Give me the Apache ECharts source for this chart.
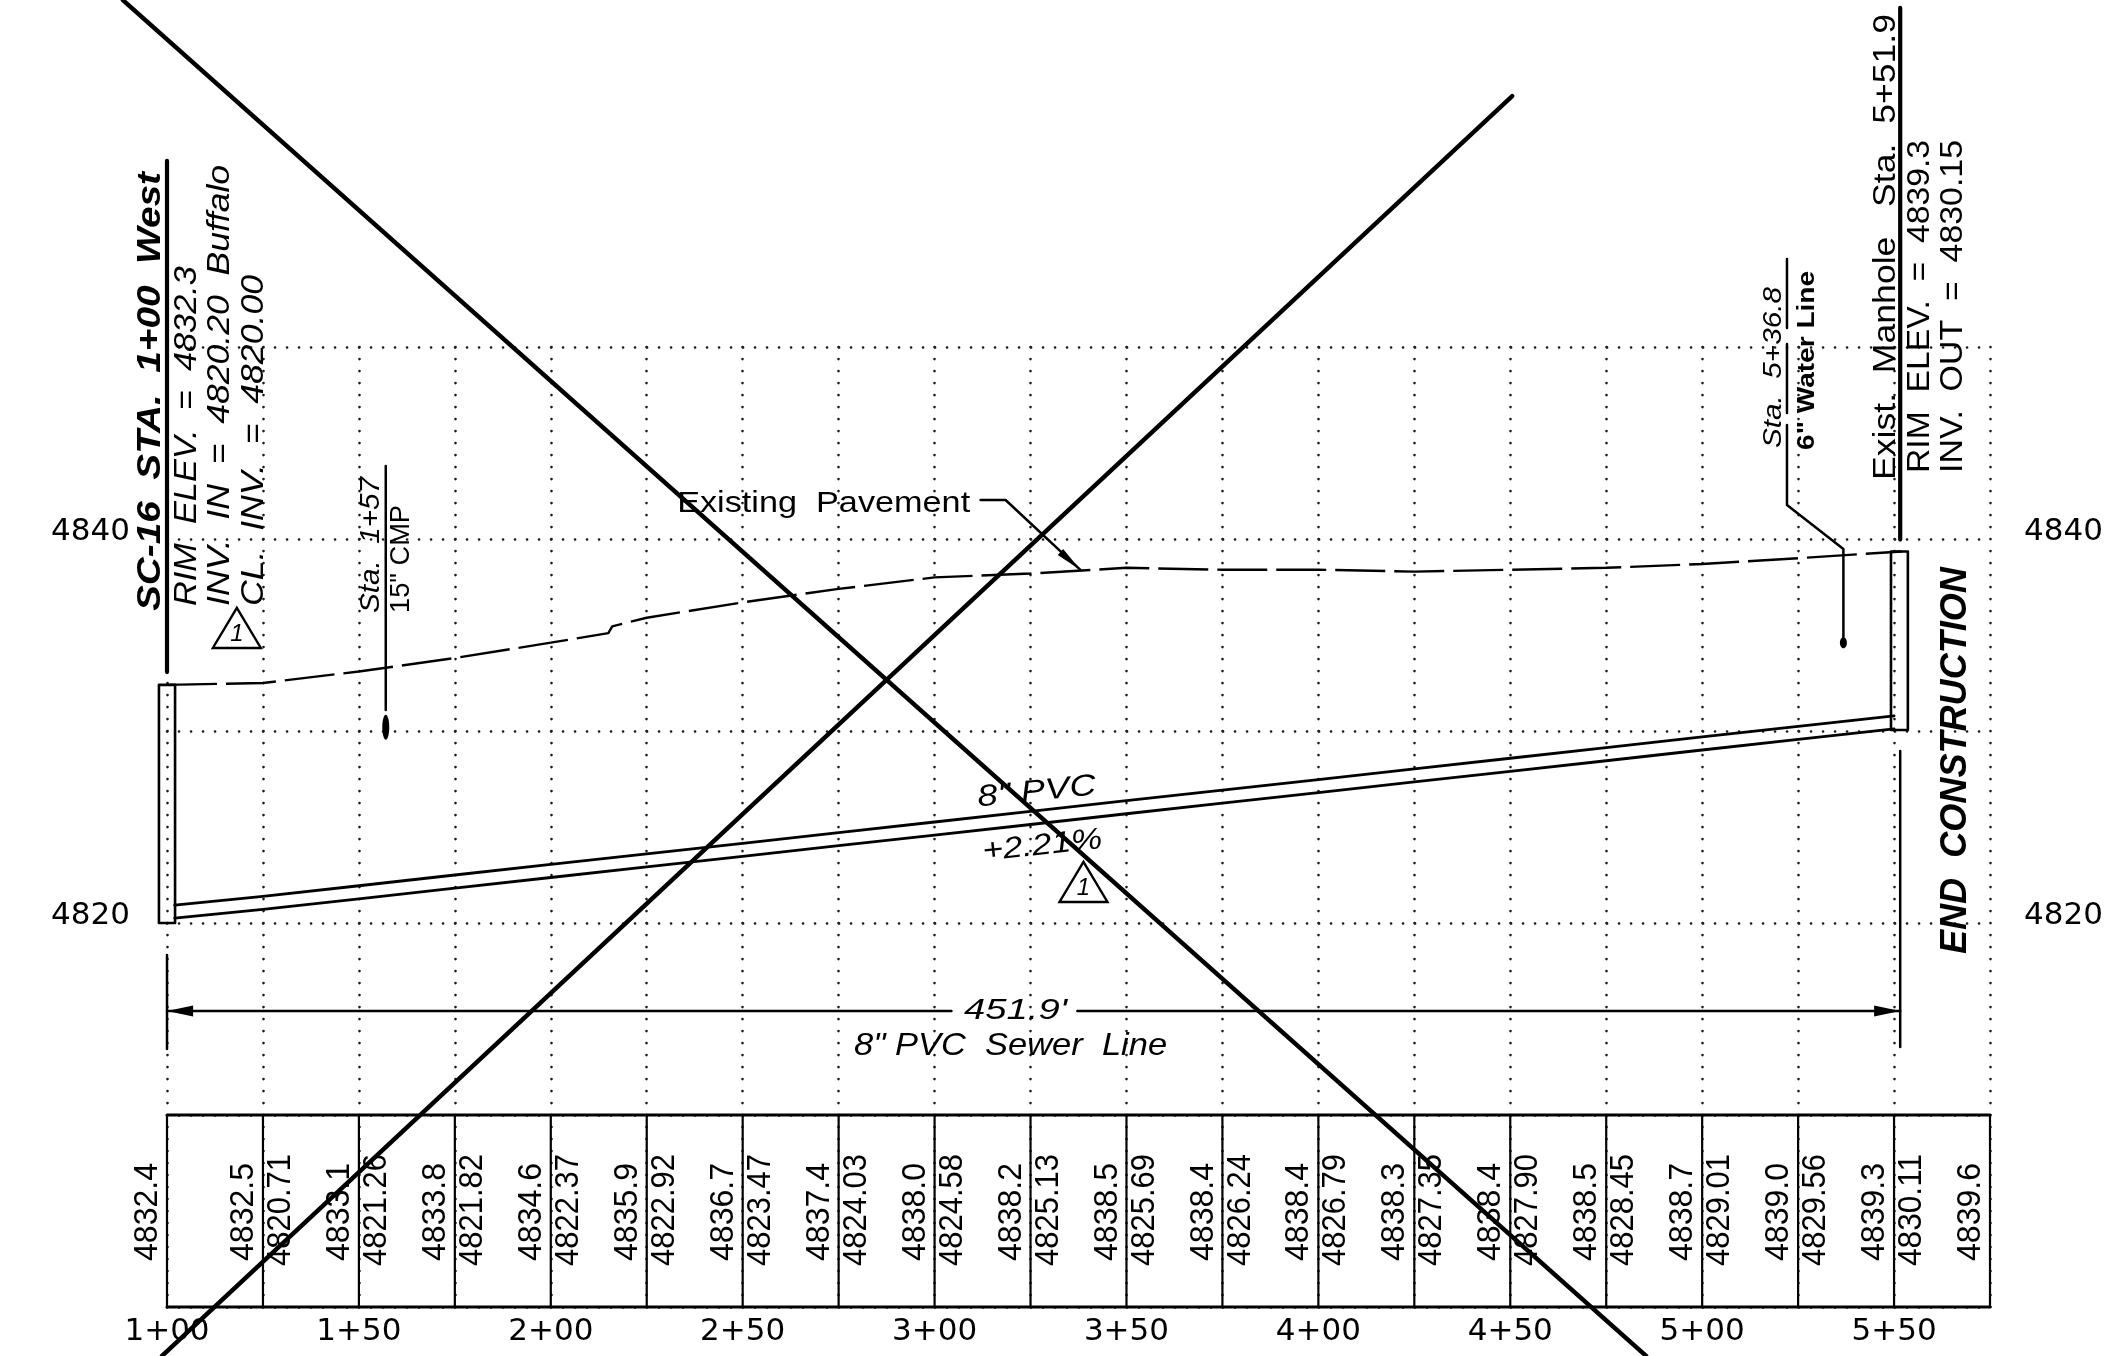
<!DOCTYPE html>
<html><head><meta charset="utf-8">
<style>html,body{margin:0;padding:0;background:#fff}#c{width:2127px;height:1356px}</style>
<script src="https://cdn.jsdelivr.net/npm/echarts@6/dist/echarts.min.js"></script>
</head><body><div id="c"></div>
<script>
// ---- profile data (station in feet, elevation in feet) ----
const groundStations=[100,125,150,175,200,225,250,275,300,325,350,375,400,425,450,475,500,525,550,575];
const groundElev=[4832.4,4832.5,4833.1,4833.8,4834.6,4835.9,4836.7,4837.4,4838.0,4838.2,4838.5,4838.4,4838.4,4838.3,4838.4,4838.5,4838.7,4839.0,4839.3,4839.6];
const invertStations=[125,150,175,200,225,250,275,300,325,350,375,400,425,450,475,500,525,550];
const invertElev=[4820.71,4821.26,4821.82,4822.37,4822.92,4823.47,4824.03,4824.58,4825.13,4825.69,4826.24,4826.79,4827.35,4827.90,4828.45,4829.01,4829.56,4830.11];
const pavementStations=[100,125,150,175,200,215,216,225,250,275,300,325,350,375,400,425,450,475,500,525,552];
const pavementElev=[4832.4,4832.5,4833.1,4833.8,4834.6,4835.1,4835.45,4835.9,4836.7,4837.4,4838.0,4838.2,4838.5,4838.4,4838.4,4838.3,4838.4,4838.5,4838.7,4839.0,4839.35];
const pipeStations=[102,125,150,175,200,225,250,275,300,325,350,375,400,425,450,475,500,525,550];
const pipeInvert=[4820.25,4820.71,4821.26,4821.82,4822.37,4822.92,4823.47,4824.03,4824.58,4825.13,4825.69,4826.24,4826.79,4827.35,4827.90,4828.45,4829.01,4829.56,4830.11];
const pipeDiameterFt=0.68;
const stationLabels=['1+00','1+50','2+00','2+50','3+00','3+50','4+00','4+50','5+00','5+50'];
const elevationLabels=['4820','4840'];
// ---- drawing geometry in station / elevation units ----
const startManhole=[[97.9,4832.4],[102.1,4832.4],[102.1,4820],[97.9,4820],[97.9,4832.4]];
const endManhole=[[549.2,4839.35],[553.6,4839.35],[553.6,4830.05],[549.2,4830.05],[549.2,4839.35]];
const crossLineA=[[88.5,4868.07],[485.4,4797.45]];
const crossLineB=[[98.7,4797.45],[450.5,4863.07]];
const tableTop=[[100,4810],[575,4810]];
const tableBottom=[[100,4800],[575,4800]];
const heavyLeaders=[[[100,4859.69],[100,4833.07]],[[551.6,4867.66],[551.6,4839.97]]];
const thinLeaders=[
 [[157,4843.8],[157,4831.09]],
 [[522.1,4854.58],[522.1,4850.99]],
 [[522.1,4850.16],[522.1,4846.56]],
 [[522.1,4845.94],[522.1,4841.77],[536.8,4839.48],[536.8,4834.71]],
 [[100,4818.33],[100,4813.44]],
 [[551.6,4828.96],[551.6,4813.54]],
 [[100,4815.42],[304.4,4815.42]],
 [[337.2,4815.42],[551.6,4815.42]],
 [[312,4842.03],[318.5,4842.03],[338,4838.39]]
];
const crossings=[[157,4830.2,7,25],[536.8,4834.6,7,11]];
const arrowHeads=[[100,4815.42,106.8,4815.42,5.5],[551.6,4815.42,544.8,4815.42,5.5],[338,4838.39,332.8,4839.32,4]];
const revisionMarks=[[118.2,4836.41],[338.8,4823.18]];
const noteTexts=['SC-16  STA.  1+00  West','RIM  ELEV.  =  4832.3','INV.  IN  =  4820.20  Buffalo','CL.  INV.  =  4820.00','Sta.  1+57','15" CMP','Sta.  5+36.8','6" Water Line','Exist.  Manhole   Sta.  5+51.9','RIM  ELEV.  =  4839.3','INV.  OUT  =  4830.15','END  CONSTRUCTION',"451.9'",'8" PVC  Sewer  Line','Existing  Pavement','8" PVC','+2.21%'];
const noteStations=[95.8,105.2,113.8,122.7,153.2,161.2,518.7,527.3,547.9,556.8,565.4,566.2,321.1,319.8,271.1,326.6,328.1];
const noteElevations=[4847.68,4845.36,4848.0,4845.13,4839.69,4838.96,4848.93,4849.3,4855.21,4852.11,4852.11,4828.46,4815.42,4813.59,4841.83,4826.82,4824.01];
// ---- text layout: [css font, length in px, rotation in degrees] ----
const LS='"Liberation Sans"';
const noteLayout=[
 ['italic bold 34px '+LS,439,90],['italic 32px '+LS,340,90],['italic 32px '+LS,441,90],['italic 32px '+LS,331,90],
 ['italic 27px '+LS,136,90],['27px '+LS,108,90],['italic 25px '+LS,161,90],['bold 24px '+LS,179,90],
 ['31px '+LS,466,90],['32px '+LS,333,90],['32px '+LS,333,90],['italic bold 36px '+LS,387,90],
 ['italic 30px '+LS,103,0],['italic 32px '+LS,313,0],['30px '+LS,293,0],['italic 30px '+LS,119,6],['italic 30px '+LS,120,6]
];
const measure=document.createElement('canvas').getContext('2d');
function widthOf(t,f){measure.font=f;return measure.measureText(t).width;}
function textEl(x,y,text,font,rot,len){
 return {type:'text',x:x,y:y,rotation:rot*Math.PI/180,scaleX:len?len/widthOf(text,font):1,
  style:{text:text,font:font,fill:'#000',textAlign:'center',textVerticalAlign:'middle',align:'center',verticalAlign:'middle'}};
}
// polylines that may run past the axis range go through a custom series
function path(points,width,z){
 return {type:'custom',clip:false,silent:true,animation:false,z:z||3,data:points,
  renderItem:(p,api)=>p.dataIndex!==0?null:{type:'polyline',shape:{points:points.map(q=>api.coord(q))},
   style:{fill:'none',stroke:'#000',lineWidth:width,lineCap:'round',lineJoin:'round'}}};
}
const zip=(a,b)=>a.map((v,i)=>[v,b[i]]);
const series=[];
series.push({type:'line',data:zip(pavementStations,pavementElev),symbol:'none',clip:false,silent:true,animation:false,z:3,
 lineStyle:{color:'#000',width:2.4,type:[50,9]}});
series.push(path(zip(pipeStations,pipeInvert),2.8));
series.push(path(zip(pipeStations,pipeInvert.map(v=>v+pipeDiameterFt)),2.8));
series.push(path(startManhole,2.6));series.push(path(endManhole,2.6));
series.push(path(tableTop,3));series.push(path(tableBottom,3));
heavyLeaders.forEach(d=>series.push(path(d,4.2)));
thinLeaders.forEach(d=>series.push(path(d,2.5)));
// table dividers
series.push({type:'custom',clip:false,silent:true,animation:false,z:3,data:groundStations.map(s=>[s]),
 renderItem:(p,api)=>{const a=api.coord([api.value(0),4810]),b=api.coord([api.value(0),4800]);
  return {type:'line',shape:{x1:a[0],y1:a[1],x2:b[0],y2:b[1]},style:{stroke:'#000',lineWidth:2.2}};}});
// table values
const tableFont='33px '+LS;
series.push({type:'custom',clip:false,silent:true,animation:false,z:4,data:zip(groundStations,groundElev),
 renderItem:(p,api)=>{const c=api.coord([api.value(0),4805]);return textEl(c[0]-19,c[1]+1,api.value(1).toFixed(1),tableFont,90,98);}});
series.push({type:'custom',clip:false,silent:true,animation:false,z:4,data:zip(invertStations,invertElev),
 renderItem:(p,api)=>{const c=api.coord([api.value(0),4805]);return textEl(c[0]+18,c[1]-1,api.value(1).toFixed(2),tableFont,90,112);}});
// notes
series.push({type:'custom',clip:false,silent:true,animation:false,z:4,data:zip(noteStations,noteElevations),
 renderItem:(p,api)=>{const i=p.dataIndex,c=api.coord([api.value(0),api.value(1)]),l=noteLayout[i];
  return textEl(c[0],c[1],noteTexts[i],l[0],l[2],l[1]);}});
// crossings (ellipses)
series.push({type:'custom',clip:false,silent:true,animation:false,z:3,data:crossings,
 renderItem:(p,api)=>{const c=api.coord([api.value(0),api.value(1)]);
  return {type:'ellipse',shape:{cx:c[0],cy:c[1],rx:api.value(2)/2,ry:api.value(3)/2},style:{fill:'#000'}};}});
// arrow heads
series.push({type:'custom',clip:false,silent:true,animation:false,z:3,data:arrowHeads,
 renderItem:(p,api)=>{const t=api.coord([api.value(0),api.value(1)]),b=api.coord([api.value(2),api.value(3)]),w=api.value(4);
  const dx=b[0]-t[0],dy=b[1]-t[1],L=Math.hypot(dx,dy),nx=-dy/L*w,ny=dx/L*w;
  return {type:'polygon',shape:{points:[t,[b[0]+nx,b[1]+ny],[b[0]-nx,b[1]-ny]]},style:{fill:'#000'}};}});
// revision triangles
series.push({type:'custom',clip:false,silent:true,animation:false,z:4,data:revisionMarks,
 renderItem:(p,api)=>{const c=api.coord([api.value(0),api.value(1)]);
  return {type:'group',children:[
   {type:'polygon',shape:{points:[c,[c[0]-24,c[1]+40],[c[0]+24,c[1]+40]]},style:{fill:'none',stroke:'#000',lineWidth:2.4}},
   textEl(c[0],c[1]+26,'1','italic 24px '+LS,0,0)]};}});
// crossing-out lines
series.push(path(crossLineA,4.4,6));series.push(path(crossLineB,4.4,6));

const dots={color:'#1a1a1a',width:2.6,type:[0.1,11.9],cap:'round'};
const tickFont={color:'#000',fontFamily:'DejaVu Sans',fontSize:31};
const chart=echarts.init(document.getElementById('c'),null,{renderer:'canvas'});
chart.setOption({
 animation:false,backgroundColor:'#fff',
 grid:{left:167,right:137,top:347,bottom:49,containLabel:false},
 xAxis:{type:'value',min:100,max:575,interval:25,
  axisLine:{show:false},axisTick:{show:false},splitLine:{show:true,lineStyle:dots},
  axisLabel:Object.assign({},tickFont,{margin:9,showMinLabel:true,showMaxLabel:true,
   formatter:v=>v%50===0?(stationLabels[(v-100)/50]||''):''})},
 yAxis:[
  {type:'value',position:'left',min:4800,max:4850,interval:10,
   axisLine:{show:false},axisTick:{show:false},splitLine:{show:true,lineStyle:dots},
   axisLabel:Object.assign({},tickFont,{margin:37,verticalAlign:'bottom',lineHeight:15,
    formatter:v=>elevationLabels.includes(String(v))?String(v):''})},
  {type:'value',position:'right',min:4800,max:4850,interval:10,
   axisLine:{show:false},axisTick:{show:false},splitLine:{show:false},
   axisLabel:Object.assign({},tickFont,{margin:34,verticalAlign:'bottom',lineHeight:15,
    formatter:v=>elevationLabels.includes(String(v))?String(v):''})}
 ],
 series:series
});
</script></body></html>
